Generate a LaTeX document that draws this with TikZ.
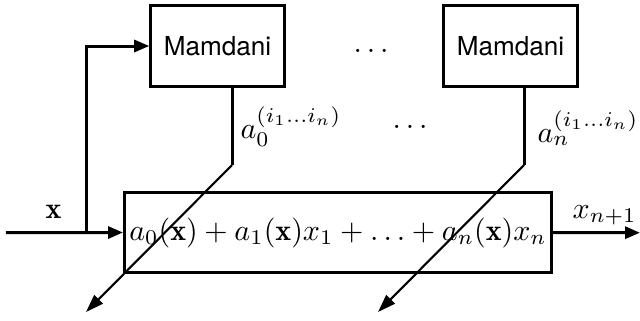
\documentclass[tikz,border=0pt]{standalone}
\usepackage{fontspec}
\newfontfamily\heros{TeX Gyre Heros}
\usetikzlibrary{arrows.meta}
\begin{document}
\begin{tikzpicture}[x=0.3333pt,y=-0.3333pt,
  box/.style={draw,line width=1pt,rectangle,inner sep=0pt},
  mbox/.style={box,minimum width=44.5pt,minimum height=27pt,font=\heros\fontsize{8.7}{10}\selectfont},
  wire/.style={line width=1pt},
  thin/.style={line width=0.7pt},
  arr/.style={-{Triangle[length=5pt,width=4pt]}},
  darr/.style={-{Triangle[length=6pt,width=4pt]}},
  lab/.style={inner sep=0pt,anchor=base west}]
\useasboundingbox (0,0) rectangle (640,320);
\node[mbox] (m1) at (217.5,46) {Mamdani};
\node[mbox] (m2) at (510.5,46) {Mamdani};
\node[box,minimum width=142.3pt,minimum height=26.7pt] (sum) at (338,232.5)
  {$a_0(\mathbf{x})+a_1(\mathbf{x})x_1+\ldots+a_n(\mathbf{x})x_n$};
\coordinate (in) at (6,232.7);
\coordinate (br) at (86,232.7);
\coordinate (out) at (640,232.7);
\coordinate (k1) at (232,165);
\coordinate (e1) at (86,312);
\coordinate (k2) at (524,165);
\coordinate (e2) at (378,312);
\draw[wire,arr] (in) -- (sum.west);
\draw[wire,arr] (br) |- (m1.west);
\draw[wire,arr] (sum.east) -- (out);
\draw[wire] (m1.south -| k1) -- (k1);
\draw[thin,darr] (k1) -- (e1);
\draw[wire] (m2.south -| k2) -- (k2);
\draw[thin,darr] (k2) -- (e2);
\node[lab] (l0) at (240,138) {$a_0^{(i_1\ldots i_n)}$};
\node[lab] (ln) at (537,142) {$a_n^{(i_1\ldots i_n)}$};
\node[lab] (dt) at (353,52) {$\ldots$};
\node[lab] (dm) at (392,128) {$\ldots$};
\node[lab] (xl) at (45,218) {$\mathbf{x}$};
\node[lab] (xo) at (572,218) {$x_{n+1}$};
\end{tikzpicture}
\end{document}
